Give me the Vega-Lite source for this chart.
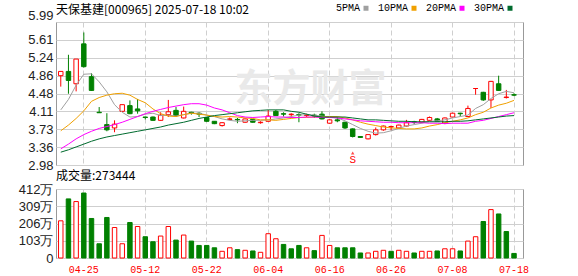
{
  "$schema": "https://vega.github.io/schema/vega-lite/v6.json",
  "padding": {"left": 5, "top": 3, "right": 0, "bottom": 0},
  "background": "white",
  "config": {
    "view": {"stroke": "#999", "strokeWidth": 1},
    "font": "Liberation Sans",
    "axis": {"domain": false, "ticks": false, "labelFont": "Liberation Sans", "labelFontSize": 13, "labelColor": "#222", "gridColor": "#cfcfcf", "title": null},
    "concat": {"spacing": -4}
  },
  "datasets": {
    "k": [
      {"d":"04-22","o":4.86,"h":4.95,"l":4.63,"c":4.95,"v":222,"vu":1,"5PMA":4.14,"10PMA":3.70,"20PMA":3.32,"30PMA":3.25},
      {"d":"04-23","o":4.95,"h":5.30,"l":4.48,"c":4.76,"v":353,"vu":0,"5PMA":4.36,"10PMA":3.82,"20PMA":3.42,"30PMA":3.30},
      {"d":"04-24","o":4.69,"h":5.21,"l":4.53,"c":5.21,"v":337,"vu":1,"5PMA":4.66,"10PMA":3.96,"20PMA":3.53,"30PMA":3.36},
      {"d":"04-25","o":5.53,"h":5.77,"l":5.03,"c":5.05,"v":388,"vu":0,"5PMA":4.89,"10PMA":4.12,"20PMA":3.62,"30PMA":3.42},
      {"d":"04-28","o":4.84,"h":4.91,"l":4.54,"c":4.55,"v":236,"vu":0,"5PMA":4.90,"10PMA":4.32,"20PMA":3.69,"30PMA":3.48},
      {"d":"04-29","o":4.09,"h":4.20,"l":4.08,"c":4.08,"v":85,"vu":0,"5PMA":4.73,"10PMA":4.40,"20PMA":3.75,"30PMA":3.53},
      {"d":"04-30","o":3.83,"h":4.07,"l":3.69,"c":3.72,"v":242,"vu":0,"5PMA":4.52,"10PMA":4.45,"20PMA":3.79,"30PMA":3.57},
      {"d":"05-06","o":3.76,"h":3.92,"l":3.67,"c":3.84,"v":182,"vu":1,"5PMA":4.25,"10PMA":4.48,"20PMA":3.83,"30PMA":3.60},
      {"d":"05-07","o":4.11,"h":4.25,"l":4.10,"c":4.25,"v":85,"vu":1,"5PMA":4.09,"10PMA":4.49,"20PMA":3.88,"30PMA":3.63},
      {"d":"05-08","o":4.23,"h":4.34,"l":4.05,"c":4.06,"v":212,"vu":0,"5PMA":3.99,"10PMA":4.45,"20PMA":3.94,"30PMA":3.66},
      {"d":"05-09","o":4.16,"h":4.37,"l":4.06,"c":4.12,"v":188,"vu":1,"5PMA":4.00,"10PMA":4.36,"20PMA":4.00,"30PMA":3.69},
      {"d":"05-12","o":3.99,"h":4.00,"l":3.94,"c":3.98,"v":127,"vu":0,"5PMA":4.05,"10PMA":4.29,"20PMA":4.06,"30PMA":3.72},
      {"d":"05-13","o":3.99,"h":4.00,"l":3.91,"c":3.92,"v":97,"vu":0,"5PMA":4.07,"10PMA":4.16,"20PMA":4.11,"30PMA":3.75},
      {"d":"05-14","o":3.92,"h":4.09,"l":3.91,"c":4.03,"v":131,"vu":1,"5PMA":4.02,"10PMA":4.06,"20PMA":4.15,"30PMA":3.78},
      {"d":"05-15","o":4.04,"h":4.35,"l":3.99,"c":4.10,"v":188,"vu":1,"5PMA":4.03,"10PMA":4.01,"20PMA":4.19,"30PMA":3.82},
      {"d":"05-16","o":4.13,"h":4.20,"l":3.99,"c":4.02,"v":107,"vu":0,"5PMA":4.01,"10PMA":4.00,"20PMA":4.22,"30PMA":3.85},
      {"d":"05-19","o":3.97,"h":4.21,"l":3.96,"c":4.11,"v":137,"vu":1,"5PMA":4.04,"10PMA":4.04,"20PMA":4.25,"30PMA":3.88},
      {"d":"05-20","o":4.09,"h":4.10,"l":4.04,"c":4.07,"v":101,"vu":0,"5PMA":4.07,"10PMA":4.07,"20PMA":4.27,"30PMA":3.92},
      {"d":"05-21","o":4.07,"h":4.09,"l":3.99,"c":4.05,"v":75,"vu":0,"5PMA":4.07,"10PMA":4.05,"20PMA":4.27,"30PMA":3.96},
      {"d":"05-22","o":3.98,"h":3.99,"l":3.89,"c":3.90,"v":75,"vu":0,"5PMA":4.03,"10PMA":4.03,"20PMA":4.24,"30PMA":3.99},
      {"d":"05-23","o":3.90,"h":3.90,"l":3.84,"c":3.85,"v":61,"vu":0,"5PMA":4.00,"10PMA":4.00,"20PMA":4.18,"30PMA":4.02},
      {"d":"05-26","o":3.81,"h":3.88,"l":3.79,"c":3.87,"v":40,"vu":1,"5PMA":3.95,"10PMA":3.99,"20PMA":4.14,"30PMA":4.04},
      {"d":"05-27","o":3.94,"h":3.98,"l":3.92,"c":3.95,"v":61,"vu":1,"5PMA":3.92,"10PMA":4.00,"20PMA":4.08,"30PMA":4.06},
      {"d":"05-28","o":3.94,"h":3.97,"l":3.86,"c":3.93,"v":50,"vu":0,"5PMA":3.90,"10PMA":3.99,"20PMA":4.02,"30PMA":4.08},
      {"d":"05-29","o":3.88,"h":3.96,"l":3.87,"c":3.95,"v":46,"vu":1,"5PMA":3.91,"10PMA":3.97,"20PMA":3.99,"30PMA":4.10},
      {"d":"05-30","o":3.94,"h":3.95,"l":3.87,"c":3.88,"v":42,"vu":0,"5PMA":3.92,"10PMA":3.96,"20PMA":3.98,"30PMA":4.12},
      {"d":"06-03","o":3.87,"h":3.90,"l":3.85,"c":3.88,"v":34,"vu":1,"5PMA":3.92,"10PMA":3.93,"20PMA":3.99,"30PMA":4.13},
      {"d":"06-04","o":3.90,"h":4.14,"l":3.89,"c":4.01,"v":145,"vu":1,"5PMA":3.93,"10PMA":3.93,"20PMA":4.00,"30PMA":4.14},
      {"d":"06-05","o":4.11,"h":4.14,"l":4.01,"c":4.02,"v":115,"vu":1,"5PMA":3.95,"10PMA":3.92,"20PMA":3.99,"30PMA":4.14},
      {"d":"06-06","o":4.06,"h":4.09,"l":4.00,"c":4.05,"v":81,"vu":0,"5PMA":3.97,"10PMA":3.94,"20PMA":3.99,"30PMA":4.14},
      {"d":"06-09","o":4.04,"h":4.07,"l":3.97,"c":4.05,"v":55,"vu":0,"5PMA":4.00,"10PMA":3.96,"20PMA":3.98,"30PMA":4.11},
      {"d":"06-10","o":4.04,"h":4.07,"l":3.88,"c":4.03,"v":75,"vu":0,"5PMA":4.03,"10PMA":3.98,"20PMA":3.98,"30PMA":4.09},
      {"d":"06-11","o":4.02,"h":4.06,"l":3.99,"c":4.03,"v":61,"vu":1,"5PMA":4.04,"10PMA":3.98,"20PMA":3.99,"30PMA":4.05},
      {"d":"06-12","o":4.03,"h":4.06,"l":3.97,"c":4.01,"v":44,"vu":0,"5PMA":4.03,"10PMA":3.99,"20PMA":3.99,"30PMA":4.01},
      {"d":"06-13","o":4.05,"h":4.11,"l":3.94,"c":3.95,"v":135,"vu":1,"5PMA":4.01,"10PMA":3.99,"20PMA":3.98,"30PMA":3.99},
      {"d":"06-16","o":3.86,"h":3.94,"l":3.85,"c":3.93,"v":75,"vu":1,"5PMA":3.99,"10PMA":4.00,"20PMA":3.98,"30PMA":3.99},
      {"d":"06-17","o":3.93,"h":4.00,"l":3.88,"c":3.91,"v":61,"vu":0,"5PMA":3.97,"10PMA":4.00,"20PMA":3.97,"30PMA":3.99},
      {"d":"06-18","o":3.88,"h":3.89,"l":3.74,"c":3.76,"v":61,"vu":0,"5PMA":3.91,"10PMA":3.97,"20PMA":3.95,"30PMA":3.99},
      {"d":"06-19","o":3.74,"h":3.75,"l":3.56,"c":3.58,"v":61,"vu":0,"5PMA":3.83,"10PMA":3.93,"20PMA":3.93,"30PMA":3.97},
      {"d":"06-20","o":3.58,"h":3.58,"l":3.55,"c":3.56,"v":30,"vu":0,"5PMA":3.75,"10PMA":3.88,"20PMA":3.91,"30PMA":3.95},
      {"d":"06-23","o":3.53,"h":3.62,"l":3.52,"c":3.62,"v":30,"vu":1,"5PMA":3.69,"10PMA":3.84,"20PMA":3.90,"30PMA":3.93},
      {"d":"06-24","o":3.62,"h":3.77,"l":3.60,"c":3.72,"v":40,"vu":1,"5PMA":3.65,"10PMA":3.81,"20PMA":3.89,"30PMA":3.93},
      {"d":"06-25","o":3.72,"h":3.81,"l":3.70,"c":3.80,"v":46,"vu":1,"5PMA":3.66,"10PMA":3.78,"20PMA":3.88,"30PMA":3.92},
      {"d":"06-26","o":3.78,"h":3.81,"l":3.71,"c":3.79,"v":40,"vu":0,"5PMA":3.70,"10PMA":3.76,"20PMA":3.88,"30PMA":3.91},
      {"d":"06-27","o":3.76,"h":3.83,"l":3.75,"c":3.82,"v":46,"vu":1,"5PMA":3.75,"10PMA":3.75,"20PMA":3.87,"30PMA":3.90},
      {"d":"06-30","o":3.80,"h":3.93,"l":3.79,"c":3.87,"v":40,"vu":1,"5PMA":3.80,"10PMA":3.74,"20PMA":3.87,"30PMA":3.90},
      {"d":"07-01","o":3.89,"h":3.91,"l":3.84,"c":3.88,"v":30,"vu":0,"5PMA":3.83,"10PMA":3.74,"20PMA":3.87,"30PMA":3.89},
      {"d":"07-02","o":3.88,"h":3.95,"l":3.86,"c":3.94,"v":40,"vu":1,"5PMA":3.86,"10PMA":3.76,"20PMA":3.87,"30PMA":3.89},
      {"d":"07-03","o":3.92,"h":4.00,"l":3.90,"c":3.98,"v":40,"vu":1,"5PMA":3.90,"10PMA":3.80,"20PMA":3.86,"30PMA":3.89},
      {"d":"07-04","o":3.95,"h":3.97,"l":3.89,"c":3.90,"v":42,"vu":0,"5PMA":3.91,"10PMA":3.83,"20PMA":3.86,"30PMA":3.89},
      {"d":"07-07","o":3.86,"h":3.98,"l":3.84,"c":3.97,"v":55,"vu":1,"5PMA":3.93,"10PMA":3.87,"20PMA":3.85,"30PMA":3.89},
      {"d":"07-08","o":3.99,"h":4.08,"l":3.98,"c":4.07,"v":55,"vu":1,"5PMA":3.97,"10PMA":3.90,"20PMA":3.86,"30PMA":3.90},
      {"d":"07-09","o":4.07,"h":4.08,"l":4.00,"c":4.06,"v":42,"vu":0,"5PMA":4.00,"10PMA":3.93,"20PMA":3.86,"30PMA":3.90},
      {"d":"07-10","o":4.00,"h":4.23,"l":3.99,"c":4.17,"v":101,"vu":1,"5PMA":4.03,"10PMA":3.97,"20PMA":3.86,"30PMA":3.91},
      {"d":"07-11","o":4.59,"h":4.59,"l":4.46,"c":4.59,"v":127,"vu":1,"5PMA":4.17,"10PMA":4.04,"20PMA":3.90,"30PMA":3.93},
      {"d":"07-14","o":4.51,"h":4.52,"l":4.33,"c":4.35,"v":218,"vu":0,"5PMA":4.25,"10PMA":4.09,"20PMA":3.92,"30PMA":3.95},
      {"d":"07-15","o":4.35,"h":4.75,"l":4.18,"c":4.74,"v":289,"vu":1,"5PMA":4.38,"10PMA":4.18,"20PMA":3.96,"30PMA":3.97},
      {"d":"07-16","o":4.69,"h":4.86,"l":4.54,"c":4.55,"v":263,"vu":0,"5PMA":4.48,"10PMA":4.24,"20PMA":4.00,"30PMA":3.99},
      {"d":"07-17","o":4.40,"h":4.56,"l":4.38,"c":4.41,"v":158,"vu":0,"5PMA":4.53,"10PMA":4.28,"20PMA":4.04,"30PMA":4.01},
      {"d":"07-18","o":4.46,"h":4.49,"l":4.43,"c":4.45,"v":27.3,"vu":0,"5PMA":4.50,"10PMA":4.34,"20PMA":4.08,"30PMA":4.02}
    ]
  },
  "vconcat": [
    {
      "width": 467,
      "height": 143,
      "data": {"name": "k"},
      "encoding": {
        "x": {
          "field": "d", "type": "ordinal",
          "scale": {
            "domain": ["04-22","04-23","04-24","04-25","04-28","04-29","04-30","05-06","05-07","05-08","05-09","05-12","05-13","05-14","05-15","05-16","05-19","05-20","05-21","05-22","05-23","05-26","05-27","05-28","05-29","05-30","06-03","06-04","06-05","06-06","06-09","06-10","06-11","06-12","06-13","06-16","06-17","06-18","06-19","06-20","06-23","06-24","06-25","06-26","06-27","06-30","07-01","07-02","07-03","07-04","07-07","07-08","07-09","07-10","07-11","07-14","07-15","07-16","07-17","07-18"],
            "paddingInner": 0, "paddingOuter": 0.395, "align": 0.153
          },
          "axis": {"values": ["04-25","05-12","05-22","06-04","06-16","06-26","07-08","07-18"], "labels": false, "grid": true, "gridDash": [5, 3], "bandPosition": 0.5, "title": null, "minExtent": 0, "maxExtent": 0}
        },
        "y": {
          "type": "quantitative",
          "scale": {"domain": [2.98, 5.99], "nice": false, "zero": false},
          "axis": {
            "values": [2.98, 3.3563, 3.7324, 4.1088, 4.4849, 4.8613, 5.2376, 5.6138, 5.99],
            "format": ".2f", "grid": true, "labelPadding": 3, "minExtent": 50, "maxExtent": 50,
            "labelBaseline": {"condition": {"test": "datum.value > 5.9", "value": "bottom"}, "value": "middle"}
          }
        }
      },
      "layer": [
        {
          "data": {"values": [{"d": "06-11", "w": "东方财富"}]},
          "mark": {"type": "text", "font": "Noto Sans CJK SC", "fontSize": 38, "fontWeight": "bold", "color": "#e9e9e9", "baseline": "middle", "align": "center", "dx": 4},
          "encoding": {
            "y": {"datum": 4.55, "type": "quantitative"},
            "text": {"field": "w"}
          }
        },
        {
          "mark": {"type": "rule", "strokeWidth": 1},
          "encoding": {
            "y": {"field": "l", "type": "quantitative"},
            "y2": {"field": "h"},
            "color": {"condition": {"test": "datum.c >= datum.o", "value": "#ff0000"}, "value": "#008000"}
          }
        },
        {
          "mark": {"type": "bar", "width": {"band": 0.58}, "strokeWidth": 1},
          "encoding": {
            "y": {"field": "o", "type": "quantitative"},
            "y2": {"field": "c"},
            "fill": {"condition": {"test": "datum.c >= datum.o", "value": "#ffffff"}, "value": "#008000"},
            "stroke": {"condition": {"test": "datum.c >= datum.o", "value": "#ff0000"}, "value": "#008000"}
          }
        },
        {
          "transform": [{"fold": ["5PMA", "10PMA", "20PMA", "30PMA"], "as": ["ma", "mv"]}],
          "mark": {"type": "line", "strokeWidth": 1},
          "encoding": {
            "y": {"field": "mv", "type": "quantitative"},
            "color": {
              "field": "ma", "type": "nominal",
              "scale": {"domain": ["5PMA", "10PMA", "20PMA", "30PMA"], "range": ["#a0a0a0", "#f0a000", "#ff00ff", "#006b2e"]},
              "legend": {
                "orient": "none", "legendX": 0, "legendY": -19, "direction": "horizontal",
                "title": "天保基建[000965] 2025-07-18 10:02", "titleOrient": "left", "titleFont": "Noto Sans CJK SC", "titleFontSize": 12, "titleFontWeight": "normal", "titleColor": "#000", "titleLimit": 400, "titlePadding": 111, "titleBaseline": "middle",
                "symbolType": "square", "symbolSize": 1, "symbolStrokeWidth": 4,
                "labelFont": "Liberation Mono", "labelFontSize": 10, "labelColor": "#000",
                "labelAlign": "right", "labelOffset": -11, "columnPadding": 2
              }
            }
          }
        },
        {
          "data": {"values": [{"d": "06-19", "t": "S"}]},
          "mark": {"type": "text", "color": "#ff0000", "font": "Liberation Mono", "fontSize": 11, "baseline": "middle", "align": "center"},
          "encoding": {
            "y": {"datum": 3.08, "type": "quantitative"},
            "text": {"field": "t"}
          }
        },
        {
          "data": {"values": [{"d": "06-19"}]},
          "mark": {"type": "point", "shape": "triangle-up", "filled": true, "color": "#ff0000", "size": 12},
          "encoding": {
            "y": {"datum": 3.23, "type": "quantitative"}
          }
        }
      ]
    },
    {
      "width": 467,
      "height": 69,
      "title": {"text": "成交量:273444", "anchor": "start", "frame": "group", "font": "Noto Sans CJK SC", "fontSize": 12, "fontWeight": "normal", "color": "#000", "offset": 0},
      "data": {"name": "k"},
      "mark": {"type": "bar", "width": {"band": 0.58}, "strokeWidth": 1},
      "encoding": {
        "x": {
          "field": "d", "type": "ordinal",
          "scale": {
            "domain": ["04-22","04-23","04-24","04-25","04-28","04-29","04-30","05-06","05-07","05-08","05-09","05-12","05-13","05-14","05-15","05-16","05-19","05-20","05-21","05-22","05-23","05-26","05-27","05-28","05-29","05-30","06-03","06-04","06-05","06-06","06-09","06-10","06-11","06-12","06-13","06-16","06-17","06-18","06-19","06-20","06-23","06-24","06-25","06-26","06-27","06-30","07-01","07-02","07-03","07-04","07-07","07-08","07-09","07-10","07-11","07-14","07-15","07-16","07-17","07-18"],
            "paddingInner": 0, "paddingOuter": 0.395, "align": 0.153
          },
          "axis": {"values": ["04-25","05-12","05-22","06-04","06-16","06-26","07-08","07-18"], "grid": true, "gridDash": [5, 3], "bandPosition": 0.5, "labelAngle": 0, "labelColor": "#ff0000", "labelFont": "Liberation Mono", "labelFontSize": 10, "labelPadding": 6, "title": null}
        },
        "y": {
          "field": "v", "type": "quantitative",
          "scale": {"domain": [0, 412], "nice": false},
          "axis": {"values": [0, 103, 206, 309, 412], "labelExpr": "datum.value == 0 ? '0' : datum.value + '万'", "grid": true, "labelPadding": 3, "minExtent": 50, "maxExtent": 50}
        },
        "fill": {"condition": {"test": "datum.vu == 1", "value": "#ffffff"}, "value": "#008000"},
        "stroke": {"condition": {"test": "datum.vu == 1", "value": "#ff0000"}, "value": "#008000"}
      }
    }
  ]
}
